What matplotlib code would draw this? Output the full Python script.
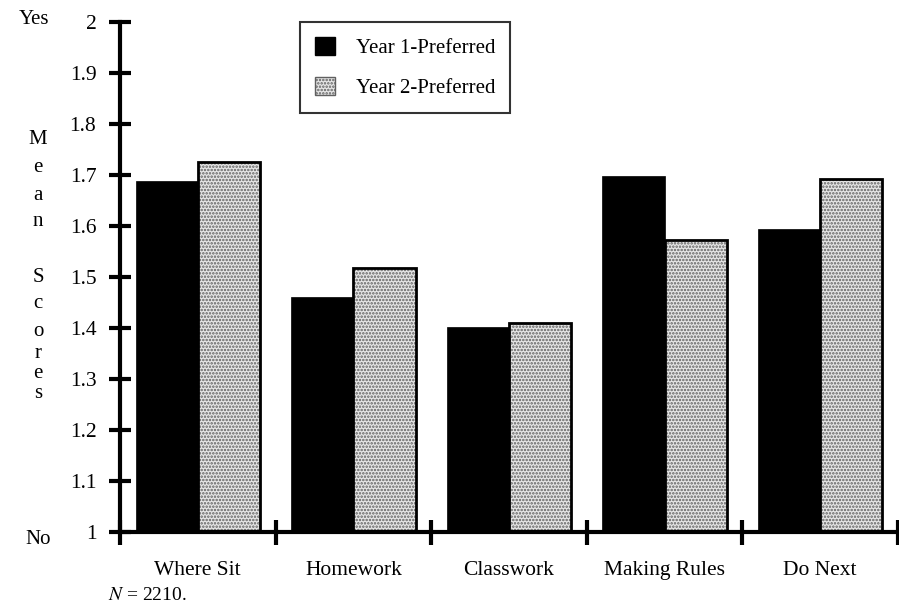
import numpy as np
import matplotlib
matplotlib.use('Agg')
import matplotlib.pyplot as plt
from matplotlib.patches import Patch

plt.rcParams['font.family'] = 'Liberation Serif'
plt.rcParams['mathtext.fontset'] = 'stix'
plt.rcParams['hatch.linewidth'] = 1.2

categories = ['Where Sit', 'Homework', 'Classwork', 'Making Rules', 'Do Next']
year1 = [1.688, 1.461, 1.402, 1.698, 1.594]
year2 = [1.725, 1.518, 1.410, 1.573, 1.692]
yticks = [1, 1.1, 1.2, 1.3, 1.4, 1.5, 1.6, 1.7, 1.8, 1.9, 2]
ytick_labels = ['1', '1.1', '1.2', '1.3', '1.4', '1.5', '1.6', '1.7', '1.8', '1.9', '2']

fig = plt.figure(figsize=(8.99, 6.06), dpi=100)
ax = fig.add_axes([120 / 899, 74 / 606, 778 / 899, 510 / 606])

x = np.arange(len(categories))
w = 0.4
ax.bar(x - w / 2, year1, width=w, bottom=0, color='black', edgecolor='black',
       linewidth=0.5, zorder=2)
# dotted fill for year 2, then a heavy black outline on top
ax.bar(x + w / 2, year2, width=w, color='#e6e6e6', edgecolor='#606060',
       hatch='.....', linewidth=0, zorder=2)
ax.bar(x + w / 2, year2, width=w, fill=False, edgecolor='black',
       linewidth=2.0, zorder=3)

ax.set_xlim(-0.5, len(categories) - 0.5)
ax.set_ylim(1, 2)

for side in ['top', 'right']:
    ax.spines[side].set_visible(False)
ax.spines['left'].set_linewidth(3)
ax.spines['bottom'].set_linewidth(3)

ax.set_yticks(yticks)
ax.set_yticklabels(ytick_labels)
ax.tick_params(axis='y', direction='inout', length=16, width=3, pad=9,
               labelsize=15.5)

# group separators on the x axis, category names as minor ticks
ax.set_xticks(np.arange(-0.5, len(categories), 1.0))
ax.set_xticklabels([])
ax.tick_params(axis='x', which='major', direction='inout', length=18, width=3)
ax.set_xticks(x, minor=True)
ax.set_xticklabels(categories, minor=True)
ax.tick_params(axis='x', which='minor', length=0, pad=21, labelsize=15.5)

# legend
handles = [Patch(facecolor='black', edgecolor='black'),
           Patch(facecolor='#e6e6e6', edgecolor='#606060', hatch='.....')]
leg = ax.legend(handles, ['Year 1-Preferred', 'Year 2-Preferred'],
                loc='upper left', bbox_to_anchor=(180 / 778, 1.0),
                fontsize=15, frameon=True, fancybox=False,
                handlelength=1.0, handleheight=1.0, handletextpad=1.0,
                labelspacing=0.9, borderpad=0.7, borderaxespad=0.0)
leg.get_frame().set_edgecolor('black')
leg.get_frame().set_linewidth(1.5)

# stacked y label and end labels
ylabel_letters = ['M', 'e', 'a', 'n', 'S', 'c', 'o', 'r', 'e', 's']
ylabel_pos = [140, 168, 195, 222, 277, 304, 331, 353, 373, 394]
for ch, py in zip(ylabel_letters, ylabel_pos):
    fig.text(38 / 899, 1 - py / 606, ch, fontsize=15, ha='center', va='center')

fig.text(34 / 899, 1 - 19 / 606, 'Yes', fontsize=15, ha='center', va='center')
fig.text(38 / 899, 1 - 540 / 606, 'No', fontsize=15, ha='center', va='center')
fig.text(108 / 899, 1 - 596 / 606, r'$N$ = 2210.', fontsize=14, ha='left',
         va='center')

fig.savefig('out.png', dpi=100)
